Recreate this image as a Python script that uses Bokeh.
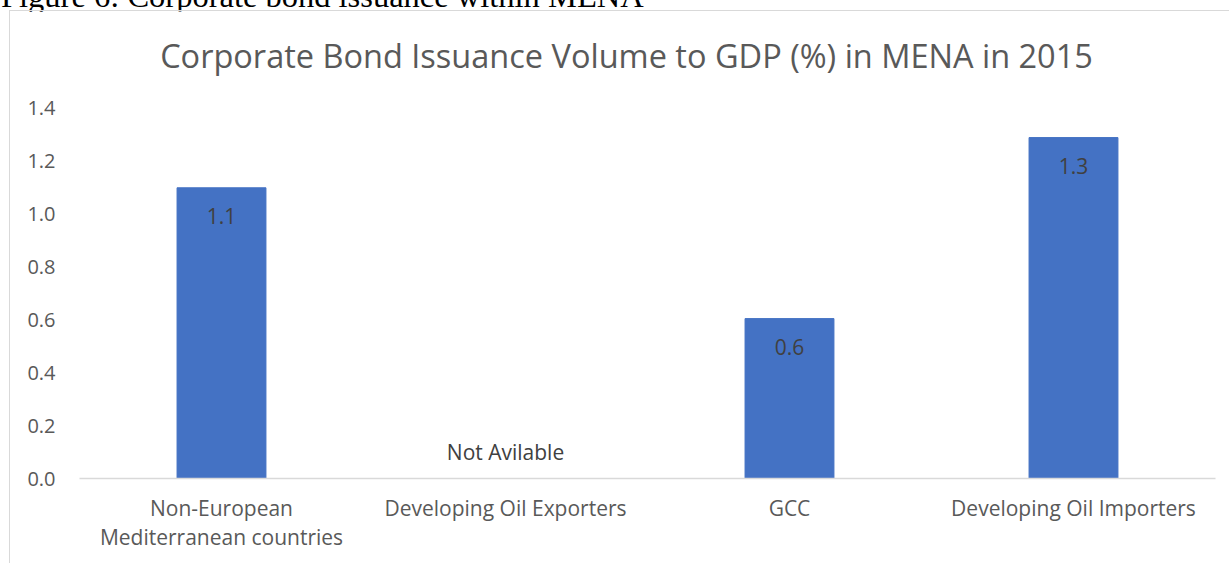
import math
from bokeh.plotting import figure
from bokeh.models import (ColumnDataSource, FactorRange, Range1d, FixedTicker, Label,
                          NumeralTickFormatter, Div, CategoricalAxis, CustomJSTickFormatter)
from bokeh.layouts import column
from bokeh.embed import file_html
from bokeh.resources import INLINE
from bokeh.core.properties import value

caption = "Figure 6: Corporate bond issuance within MENA"
chart_title = "Corporate Bond Issuance Volume to GDP (%) in MENA in 2015"
categories = ["Non-European Mediterranean countries", "Developing Oil Exporters", "GCC", "Developing Oil Importers"]
category_line1 = ["Non-European", "Developing Oil Exporters", "GCC", "Developing Oil Importers"]
category_line2 = ["Mediterranean countries", "", "", ""]
values = [1.1, float("nan"), 0.605, 1.29]
value_labels = ["1.1", "Not Avilable", "0.6", "1.3"]
y_ticks = [0.0, 0.2, 0.4, 0.6, 0.8, 1.0, 1.2, 1.4]

FONT = "Open Sans"
LABEL_SIZE = "21px"
GREY = "#595959"

bar_src = ColumnDataSource(dict(
    x=[c for c, v in zip(categories, values) if not math.isnan(v)],
    top=[v for v in values if not math.isnan(v)],
))
lab_src = ColumnDataSource(dict(
    x=categories,
    y=[0.0 if math.isnan(v) else v for v in values],
    text=value_labels,
    off=[-27 if math.isnan(v) else 28 for v in values],
))

# frame extends to the top of the chart box so the title sits inside it;
# the value axis still tops out at the 1.4 tick
p = figure(x_range=FactorRange(*categories, range_padding=0), y_range=Range1d(0, 1.767),
           width=1220, height=553, output_backend="svg", toolbar_location=None,
           min_border_left=69, min_border_right=15, min_border_top=0, min_border_bottom=86,
           margin=(0, 0, 0, 9),
           styles={"border-left": "1px solid #d9d9d9", "border-top": "1px solid #d9d9d9"})

p.vbar(x="x", top="top", width=0.313, source=bar_src, fill_color="#4472C4", line_color="#4472C4")
p.text(x="x", y="y", text="text", source=lab_src, y_offset="off",
       text_align="center", text_baseline="middle",
       text_font=value(FONT), text_font_size=LABEL_SIZE, text_color="#404040")

p.add_layout(Label(x=547, y=423, x_units="screen", y_units="screen", text=chart_title,
                   text_align="center", text_baseline="middle",
                   text_font=FONT, text_font_size="32.5px", text_color=GREY))

p.grid.visible = False
p.outline_line_color = None
p.background_fill_color = "white"
p.border_fill_color = "white"

p.yaxis.ticker = FixedTicker(ticks=y_ticks)
p.yaxis.formatter = NumeralTickFormatter(format="0.0")
p.yaxis.axis_line_color = None
p.yaxis.major_tick_line_color = None
p.yaxis.minor_tick_line_color = None
p.yaxis.major_tick_out = 0
p.yaxis.major_tick_in = 0
p.yaxis.major_label_standoff = 24
p.yaxis.major_label_text_font = FONT
p.yaxis.major_label_text_font_size = "20px"
p.yaxis.major_label_text_color = GREY

fmt_code = "const i = cats.indexOf(tick); return i >= 0 ? labs[i] : tick;"

xa = p.xaxis[0]
xa.axis_line_color = "#d9d9d9"
xa.axis_line_width = 1.5
xa.major_tick_line_color = None
xa.minor_tick_line_color = None
xa.major_tick_out = 0
xa.major_tick_in = 0
xa.major_label_standoff = 15
xa.formatter = CustomJSTickFormatter(args=dict(cats=categories, labs=category_line1), code=fmt_code)
xa.major_label_text_font = FONT
xa.major_label_text_font_size = LABEL_SIZE
xa.major_label_text_color = GREY

xa2 = CategoricalAxis(axis_line_color=None, major_tick_line_color=None, minor_tick_line_color=None,
                      major_tick_out=0, major_tick_in=0, major_label_standoff=-2,
                      formatter=CustomJSTickFormatter(args=dict(cats=categories, labs=category_line2),
                                                      code=fmt_code),
                      major_label_text_font=FONT, major_label_text_font_size=LABEL_SIZE,
                      major_label_text_color=GREY)
p.add_layout(xa2, "below")

cap = Div(text=caption, width=700, height=32, margin=(-22, 0, 0, 0),
          styles={"font-family": "'Liberation Serif', 'Times New Roman', serif",
                  "font-size": "32.5px", "line-height": "36px", "color": "black",
                  "white-space": "nowrap", "text-indent": "1px"})

layout = column(cap, p, spacing=0)

open("out.html", "w").write(file_html(layout, INLINE))
